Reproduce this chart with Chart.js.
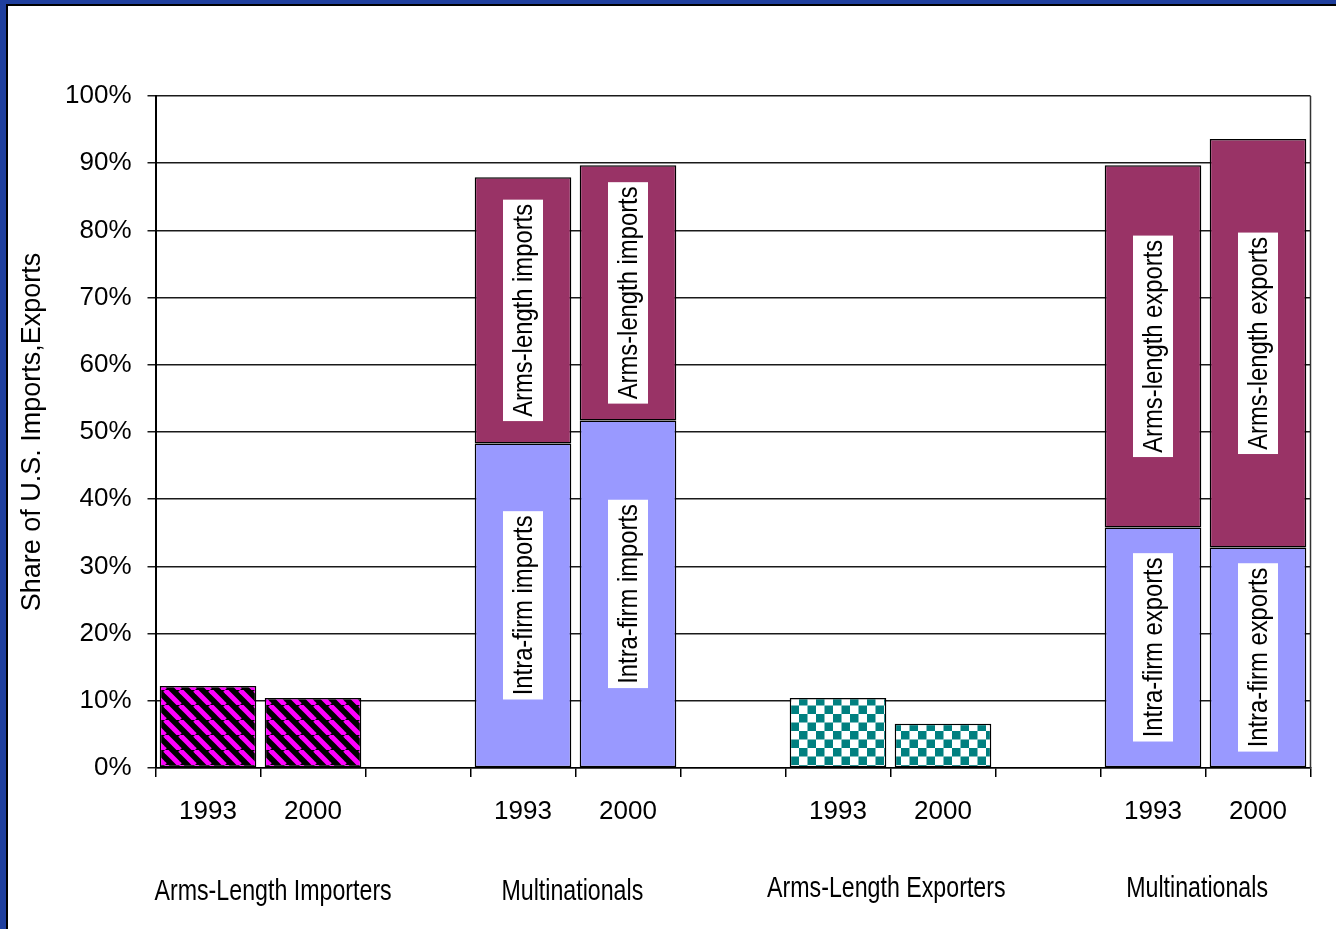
<!DOCTYPE html>
<html>
<head>
<meta charset="utf-8">
<script src="https://cdn.jsdelivr.net/npm/chart.js@4/dist/chart.umd.min.js"></script>
<style>
  html, body { margin: 0; padding: 0; background: #fff; }
  #wrap { position: relative; width: 1336px; height: 929px; }
</style>
</head>
<body>
<div id="wrap"><canvas id="shares"></canvas></div>
<script>
// category slots: two years per group, empty slot between groups
const years = ["1993", "2000", "", "1993", "2000", "", "1993", "2000", "", "1993", "2000"];
const groups = ["Arms-Length Importers", "Multinationals", "Arms-Length Exporters", "Multinationals"];

// share of U.S. imports / exports, percent
const armsImporters = [12.2, 10.4, null, null, null, null, null, null, null, null, null];
const intraFirm = [null, null, null, 48.3, 51.7, null, null, null, null, 35.8, 32.8];
const armsLength = [null, null, null, 39.6, 38.0, null, null, null, null, 53.9, 60.8];
const armsExporters = [null, null, null, null, null, null, 10.4, 6.6, null, null, null];

const intraText = [null, null, null, "Intra-firm imports", "Intra-firm imports", null, null, null, null, "Intra-firm exports", "Intra-firm exports"];
const armsText = [null, null, null, "Arms-length imports", "Arms-length imports", null, null, null, null, "Arms-length exports", "Arms-length exports"];

const yTicks = [0, 10, 20, 30, 40, 50, 60, 70, 80, 90, 100];

const FONT = "'Liberation Sans', Arial, sans-serif";

function stripePattern() {
  const p = 15;
  const c = document.createElement("canvas");
  c.width = p; c.height = p;
  const g = c.getContext("2d");
  g.fillStyle = "#000";
  g.fillRect(0, 0, p, p);
  g.strokeStyle = "#ff00ff";
  g.lineWidth = 5;
  for (const k of [-p, 0, p]) {
    g.beginPath();
    g.moveTo(k, 0);
    g.lineTo(k + p, p);
    g.stroke();
  }
  return g.createPattern(c, "repeat");
}

function checkerPattern() {
  const s = 8.5;
  const c = document.createElement("canvas");
  c.width = 17; c.height = 17;
  const g = c.getContext("2d");
  g.fillStyle = "#fff";
  g.fillRect(0, 0, 17, 17);
  g.fillStyle = "#008080";
  g.fillRect(0, 0, s, s);
  g.fillRect(s, s, s, s);
  return g.createPattern(c, "repeat");
}

// blue page frame on the left and top edges
const frame = {
  id: "frame",
  beforeDraw(chart) {
    const ctx = chart.ctx;
    ctx.save();
    ctx.fillStyle = "#fff";
    ctx.fillRect(0, 0, chart.width, chart.height);
    ctx.fillStyle = "#1f3f9e";
    ctx.fillRect(0, 0, 6, chart.height);
    ctx.fillRect(0, 0, chart.width, 4);
    ctx.fillStyle = "#000";
    ctx.fillRect(6, 4, 2, chart.height);
    ctx.fillRect(6, 4, chart.width, 2);
    ctx.restore();
  }
};

// rotated captions on the stacked segments
const segmentText = {
  id: "segmentText",
  afterDatasetsDraw(chart) {
    const ctx = chart.ctx;
    chart.data.datasets.forEach((ds, i) => {
      if (!ds.captions) return;
      chart.getDatasetMeta(i).data.forEach((bar, j) => {
        const text = ds.captions[j];
        if (!text || ds.data[j] == null) return;
        ctx.save();
        ctx.translate(bar.x, (bar.y + bar.base) / 2);
        ctx.rotate(-Math.PI / 2);
        ctx.scale(0.85, 1);
        ctx.font = "28px " + FONT;
        const w = ctx.measureText(text).width;
        ctx.fillStyle = "#fff";
        ctx.fillRect(-w / 2 - 5, -20, w + 10, 40);
        ctx.fillStyle = "#000";
        ctx.textAlign = "center";
        ctx.textBaseline = "middle";
        ctx.fillText(text, 0, 1);
        ctx.restore();
      });
    });
  }
};

// group names under the year ticks, plus the plot's right edge
const groupText = {
  id: "groupText",
  afterDraw(chart) {
    const ctx = chart.ctx;
    const x = chart.scales.x;
    const area = chart.chartArea;
    ctx.save();
    ctx.strokeStyle = "#333";
    ctx.lineWidth = 1.5;
    ctx.beginPath();
    ctx.moveTo(area.right, area.top);
    ctx.lineTo(area.right, area.bottom);
    ctx.stroke();

    const at = [0.62, 3.47, 6.46, 9.42];
    const base = [900, 900, 897, 897];
    const step = x.getPixelForValue(1) - x.getPixelForValue(0);
    ctx.font = "29px " + FONT;
    ctx.fillStyle = "#000";
    ctx.textAlign = "center";
    ctx.textBaseline = "alphabetic";
    groups.forEach((name, i) => {
      ctx.save();
      ctx.translate(x.getPixelForValue(0) + at[i] * step, base[i]);
      ctx.scale(0.8, 1);
      ctx.fillText(name, 0, 0);
      ctx.restore();
    });
    ctx.restore();
  }
};

const ctx = document.getElementById("shares").getContext("2d");

new Chart(ctx, {
  type: "bar",
  data: {
    labels: years,
    datasets: [
      {
        label: "Arms-Length Importers",
        data: armsImporters,
        backgroundColor: stripePattern(),
      },
      {
        label: "Intra-firm",
        data: intraFirm,
        backgroundColor: "#9999ff",
        captions: intraText,
      },
      {
        label: "Arms-length",
        data: armsLength,
        backgroundColor: "#993366",
        captions: armsText,
      },
      {
        label: "Arms-Length Exporters",
        data: armsExporters,
        backgroundColor: checkerPattern(),
      },
    ].map(d => Object.assign(d, {
      borderColor: "#000",
      borderWidth: 1.5,
      borderSkipped: false,
      barPercentage: 0.92,
      categoryPercentage: 1,
    })),
  },
  options: {
    responsive: true,
    maintainAspectRatio: false,
    animation: false,
    layout: { padding: { left: 8, top: 96, right: 25.5, bottom: 0 } },
    plugins: {
      legend: { display: false },
      tooltip: { enabled: false },
    },
    scales: {
      x: {
        stacked: true,
        afterFit(scale) { scale.height = 161; },
        grid: {
          offset: true,
          drawOnChartArea: false,
          drawTicks: true,
          tickLength: 9,
          color: "#000",
          lineWidth: 1.5,
        },
        border: { display: true, color: "#000", width: 1.5 },
        ticks: {
          color: "#000",
          font: { family: FONT, size: 26 },
          padding: 19,
          autoSkip: false,
          maxRotation: 0,
        },
      },
      y: {
        stacked: true,
        min: 0,
        max: 100,
        afterFit(scale) { scale.width = 147.5; },
        afterBuildTicks(scale) { scale.ticks = yTicks.map(v => ({ value: v })); },
        grid: {
          color: "#1a1a1a",
          lineWidth: 1.5,
          tickLength: 8,
        },
        border: { display: true, color: "#000", width: 2 },
        ticks: {
          color: "#000",
          font: { family: FONT, size: 26 },
          padding: 16,
          callback: v => v + "%",
        },
        title: {
          display: true,
          text: "Share of U.S. Imports,Exports",
          color: "#000",
          font: { family: FONT, size: 27 },
          padding: { top: 8 },
        },
      },
    },
  },
  plugins: [frame, segmentText, groupText],
});
</script>
</body>
</html>
